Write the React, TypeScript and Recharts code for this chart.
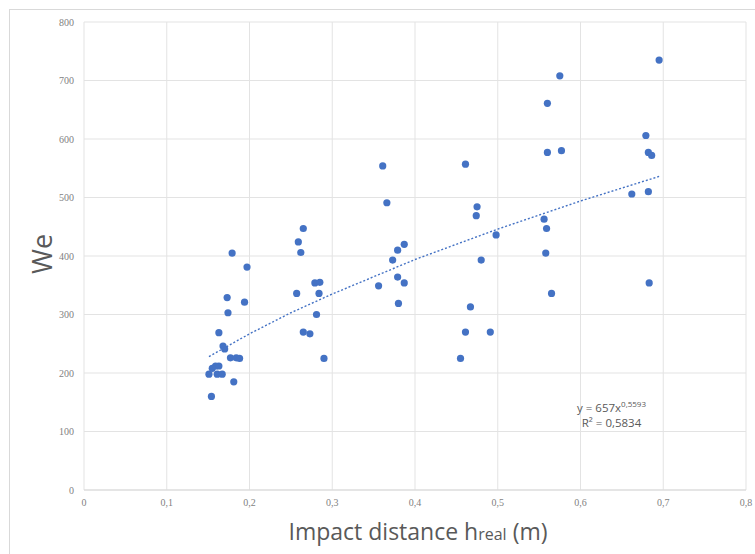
import { ScatterChart, Scatter, XAxis, YAxis, CartesianGrid } from 'recharts'

const hReal = [
  0.179, 0.197, 0.173, 0.194, 0.174, 0.163, 0.168, 0.170, 0.177, 0.184, 0.188,
  0.163, 0.159, 0.155, 0.151, 0.161, 0.167, 0.181, 0.154,
  0.265, 0.259, 0.262, 0.279, 0.285, 0.257, 0.284, 0.281, 0.265, 0.273, 0.290,
  0.361, 0.366, 0.387, 0.379, 0.373, 0.379, 0.387, 0.356, 0.380,
  0.461, 0.475, 0.474, 0.498, 0.480, 0.467, 0.461, 0.491, 0.455,
  0.575, 0.560, 0.560, 0.577, 0.556, 0.559, 0.558, 0.565,
  0.695, 0.679, 0.682, 0.686, 0.662, 0.682, 0.683,
]
const we = [
  405, 381, 329, 321, 303, 269, 246, 241, 226, 226, 225,
  212, 212, 208, 198, 198, 198, 185, 160,
  447, 424, 406, 354, 355, 336, 336, 300, 270, 267, 225,
  554, 491, 420, 410, 393, 364, 354, 349, 319,
  557, 484, 469, 436, 393, 313, 270, 270, 225,
  708, 661, 577, 580, 463, 447, 405, 336,
  735, 606, 577, 572, 506, 510, 354,
]

// power trendline y = 657x^0.5593, read at a few x positions
const trendX = [0.151, 0.2, 0.25, 0.3, 0.4, 0.5, 0.6, 0.695]
const trendY = [228, 267, 303, 335, 394, 446, 494, 536]

const xTicks = [0, 0.1, 0.2, 0.3, 0.4, 0.5, 0.6, 0.7, 0.8]
const yTicks = [0, 100, 200, 300, 400, 500, 600, 700, 800]

const points = hReal.map((x, i) => ({ x, y: we[i] }))
const trend = trendX.map((x, i) => ({ x, y: trendY[i] }))

const blue = '#4472c4'
const tickStyle = { fontSize: 10, fill: '#7f7f7f', fontFamily: '"Liberation Serif", serif' }
const titleFont = '"Open Sans", "Liberation Sans", sans-serif'

export default function App() {
  return (
    <div style={{ position: 'fixed', left: 0, top: 0, width: 755, height: 554, overflow: 'hidden', background: '#fff' }}>
      <div style={{ position: 'absolute', left: 9, top: 9, width: 800, height: 600, border: '1px solid #d9d9d9' }} />
      <ScatterChart width={755} height={554} margin={{ top: 22, right: 9, bottom: 10, left: 10 }}>
        <CartesianGrid stroke="#e3e3e3" />
        <XAxis
          type="number"
          dataKey="x"
          domain={[0, 0.8]}
          ticks={xTicks}
          tickFormatter={v => String(v).replace('.', ',')}
          tick={tickStyle}
          tickSize={0}
          tickMargin={9}
          axisLine={{ stroke: '#d9d9d9' }}
          height={54}
        />
        <YAxis
          type="number"
          dataKey="y"
          domain={[0, 800]}
          ticks={yTicks}
          tick={tickStyle}
          tickSize={0}
          tickMargin={10}
          axisLine={false}
          width={74}
        />
        <Scatter
          data={trend}
          line={{ stroke: blue, strokeWidth: 1.4, strokeDasharray: '2 2' }}
          shape={() => <g />}
          isAnimationActive={false}
        />
        <Scatter data={points} fill={blue} isAnimationActive={false}
          shape={(p: any) => <circle cx={p.cx} cy={p.cy} r={3.6} fill={blue} />} />
      </ScatterChart>
      <div style={{
        position: 'absolute', left: 41, top: 254, transform: 'translate(-50%, -50%) rotate(-90deg)',
        fontFamily: titleFont, fontSize: 27, color: '#595959', whiteSpace: 'nowrap',
      }}>We</div>
      <div style={{
        position: 'absolute', left: 418, top: 531, transform: 'translate(-50%, -50%)',
        fontFamily: titleFont, fontSize: 23, color: '#595959', whiteSpace: 'nowrap',
      }}>
        Impact distance h<span style={{ fontSize: 16 }}>real</span> (m)
      </div>
      <div style={{
        position: 'absolute', left: 577, top: 396, fontFamily: titleFont, fontSize: 11.5,
        color: '#595959', lineHeight: '15px', textAlign: 'center',
      }}>
        <div>y = 657x<sup style={{ fontSize: 8 }}>0,5593</sup></div>
        <div>R² = 0,5834</div>
      </div>
    </div>
  )
}
